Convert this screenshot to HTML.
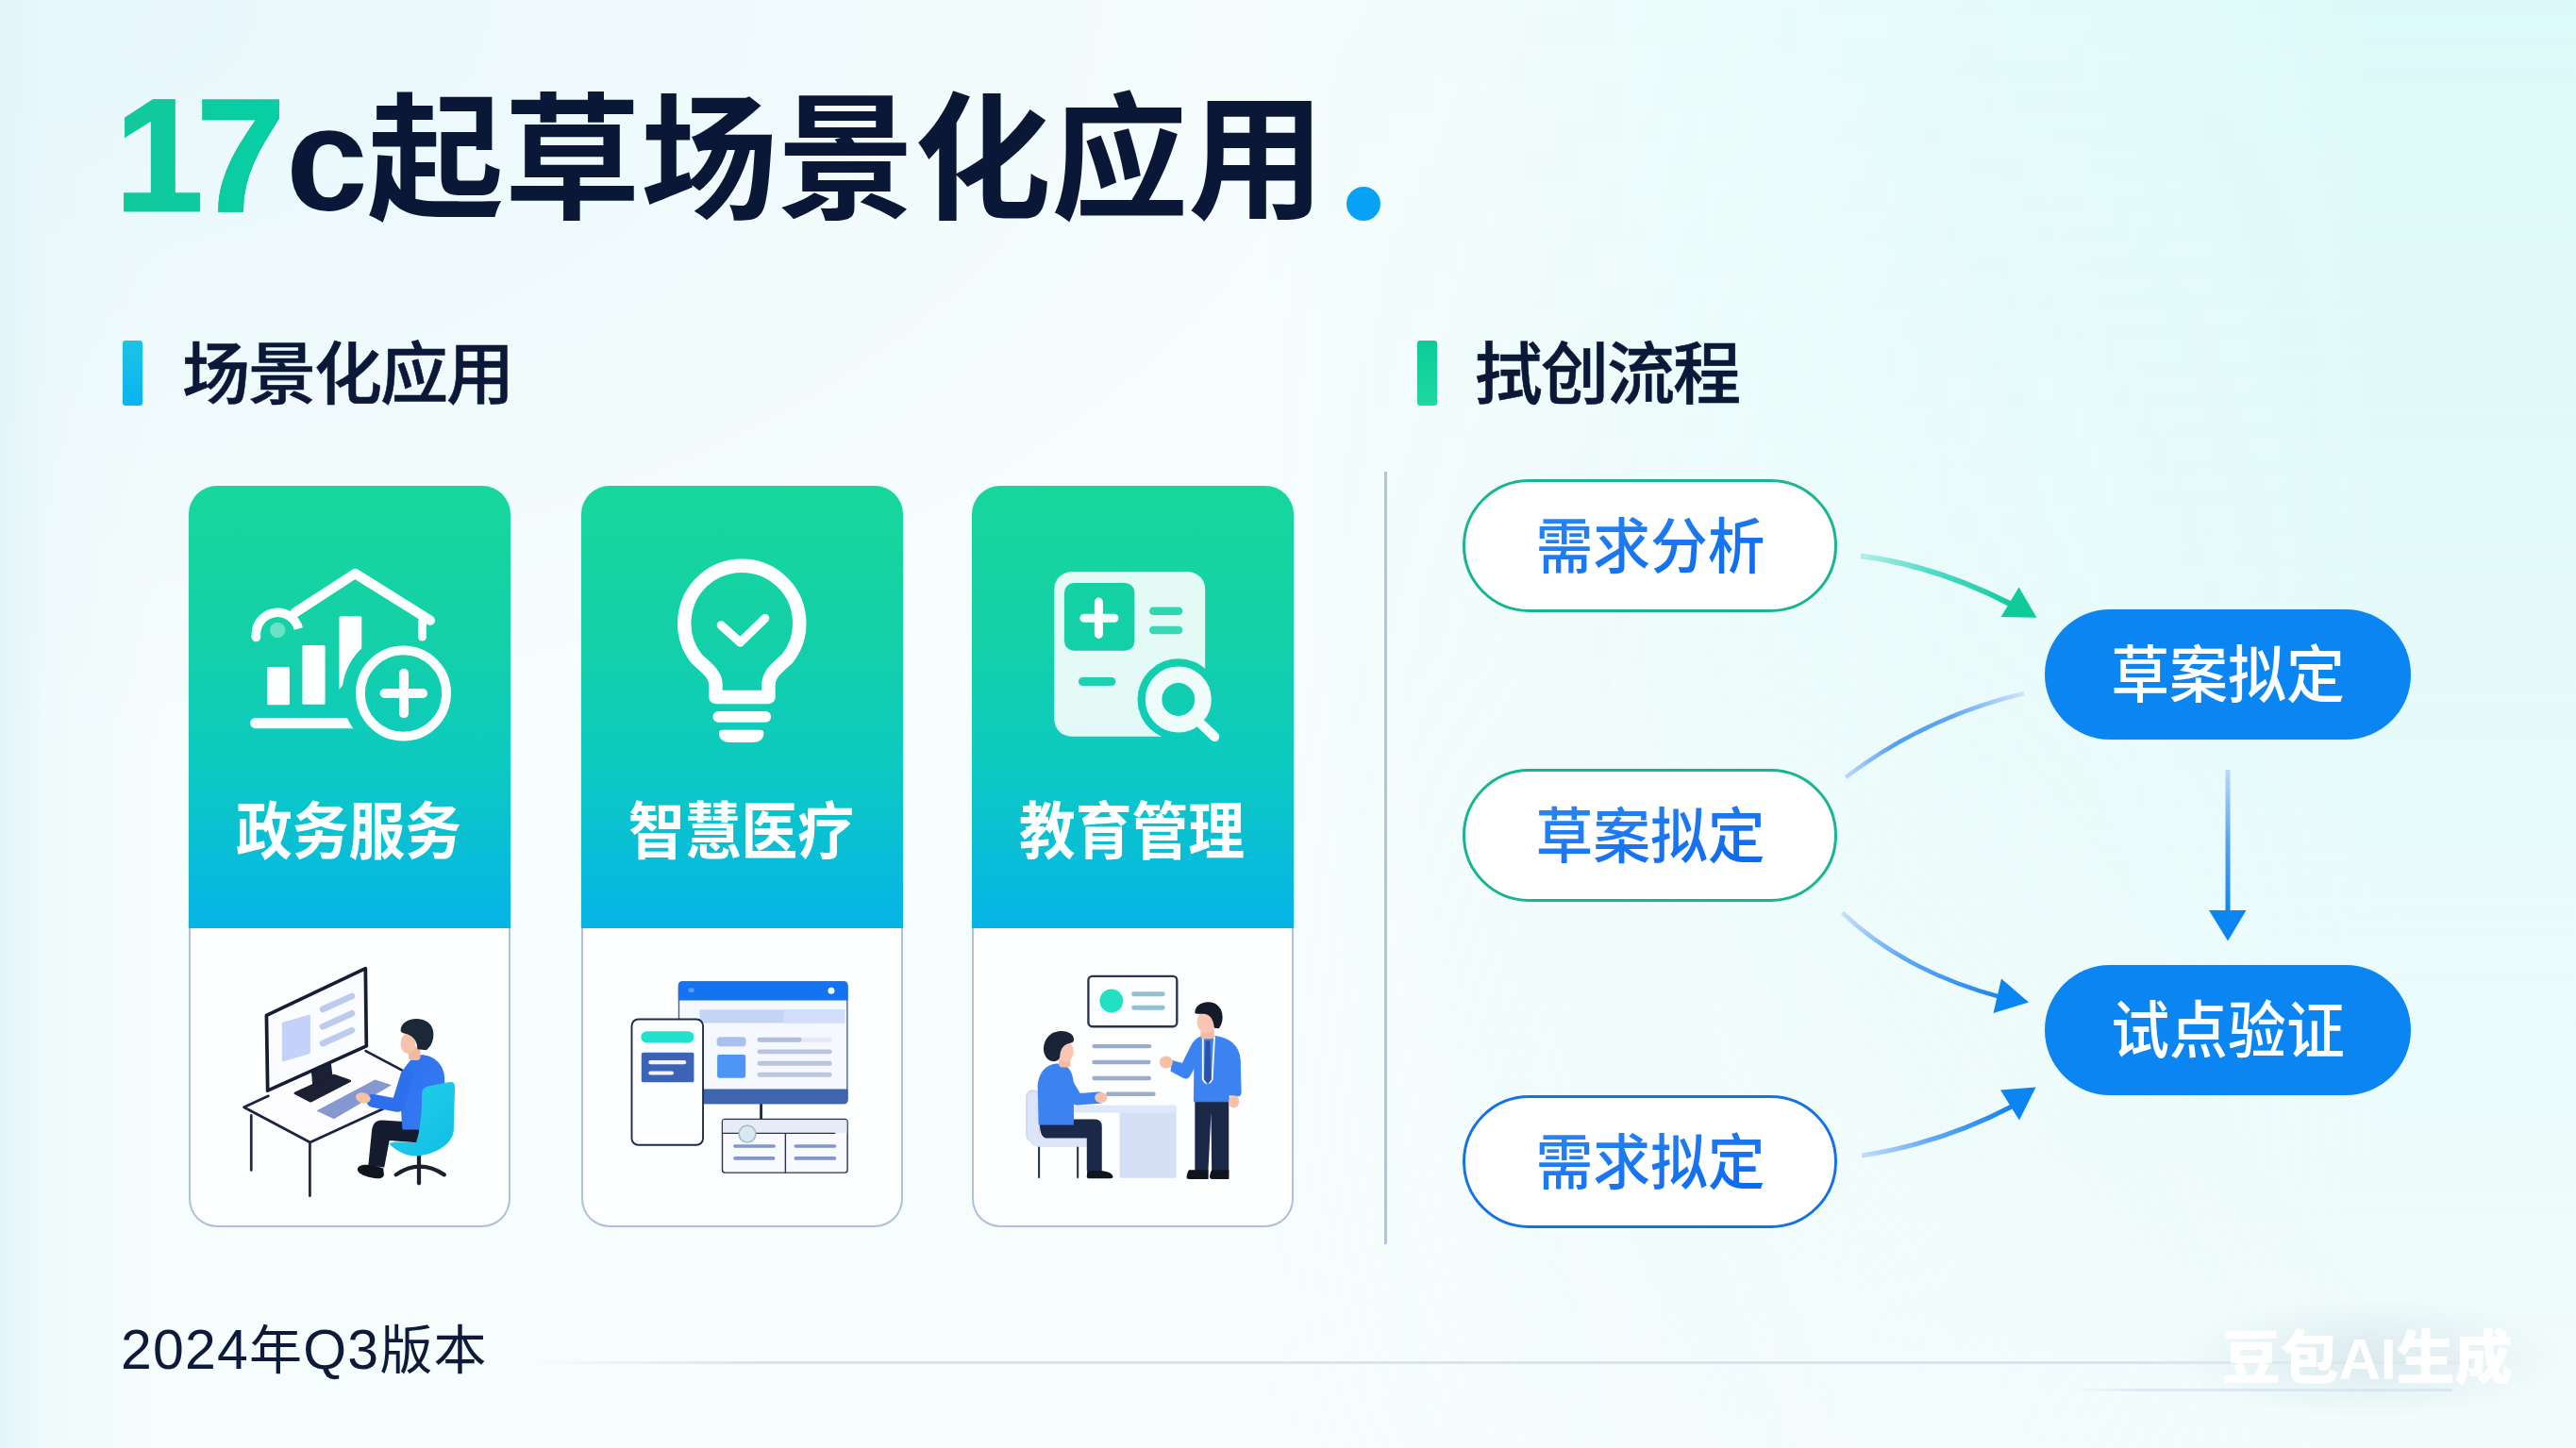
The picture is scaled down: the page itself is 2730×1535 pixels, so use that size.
<!DOCTYPE html>
<html lang="zh-CN">
<head>
<meta charset="utf-8">
<title>17c起草场景化应用</title>
<style>
*{margin:0;padding:0;box-sizing:border-box}
html,body{width:2730px;height:1535px;overflow:hidden;background:#f5fdfd}
body{font-family:"Liberation Sans","Noto Sans CJK SC",sans-serif;color:#0b1838}
#stage{position:relative;width:2730px;height:1535px;overflow:hidden;
 background:
  linear-gradient(90deg,rgba(226,244,248,.95) 0,rgba(232,247,250,.5) 50px,rgba(240,250,252,0) 170px),
  radial-gradient(ellipse 1500px 800px at 0 0,rgba(231,247,252,1),rgba(234,248,252,.55) 50%,rgba(240,250,253,0) 100%),
  #f6fdfd;
 }
#bgR{position:absolute;left:1330px;top:0;width:1400px;height:1535px;
 background:linear-gradient(180deg,rgba(220,250,249,1) 0,rgba(226,250,249,.92) 45%,rgba(234,250,250,.75) 80%,rgba(238,251,251,.6) 100%);
 -webkit-mask-image:linear-gradient(90deg,rgba(0,0,0,0) 0,rgba(0,0,0,.55) 45%,#000 85%);mask-image:linear-gradient(90deg,rgba(0,0,0,0) 0,rgba(0,0,0,.55) 45%,#000 85%)}
.abs{position:absolute;white-space:nowrap}
.t{position:absolute;white-space:nowrap;line-height:1}
/* title */
#t17{left:122px;top:81px;font-size:168px;font-weight:700;letter-spacing:-7px;padding-right:14px;-webkit-text-stroke:2.6px #10ca9e;
 background:linear-gradient(90deg,#12c89a,#06d0a8);-webkit-background-clip:text;background-clip:text;color:transparent}
#tc{left:303px;top:90px;font-size:156px;font-weight:700;color:#0a1736}
#tcjk{left:389px;top:86px;font-size:145px;font-weight:700;color:#0a1736;letter-spacing:0;font-family:"Noto Sans CJK SC",sans-serif}
#tdot{left:1427px;top:198px;width:36px;height:36px;border-radius:50%;background:#07a1f5}
/* section heads */
.bar{position:absolute;width:21px;height:69px;border-radius:3px;top:361px}
#bar1{left:130px;background:linear-gradient(180deg,#1cc3e6,#0ab3f0)}
#bar2{left:1502px;background:linear-gradient(180deg,#0ccb98,#1fd8a2)}
.sh{top:355px;font-size:72px;font-weight:500;-webkit-text-stroke:.6px #0b1838;color:#0b1838;letter-spacing:-2px;font-family:"Noto Sans CJK SC",sans-serif}
#sh1{left:193px}
#sh2{left:1563px}
/* cards */
.card{position:absolute;top:515px;width:341px;height:786px}
.card .bot{position:absolute;left:0;top:440px;width:341px;height:346px;border-radius:0 0 30px 30px;background:#fdfefe;border:2px solid #afc0dd;border-top:none}
.card .top{position:absolute;left:0;top:0;width:341px;height:469px;border-radius:30px 30px 0 0;
 background:linear-gradient(180deg,#17d79c 0%,#14d0a8 35%,#0ccbc0 62%,#08bbdc 88%,#05b3e6 100%)}
.card .lbl{position:absolute;left:0;width:341px;text-align:center;top:328px;font-size:66px;line-height:1;font-weight:700;color:#fff;letter-spacing:0;transform:translateX(-1px) scaleX(.905);font-family:"Noto Sans CJK SC",sans-serif}
#c1{left:200px}#c2{left:616px}#c3{left:1030px}
/* divider */
#vdiv{left:1467px;top:500px;width:3px;height:819px;background:#aec4e2}
/* pills */
.pill{position:absolute;width:397px;height:141px;border-radius:71px;background:#fff;border:3px solid #17b592;
 font-size:64px;font-weight:500;color:#1574f0;text-align:center;line-height:126px;font-family:"Noto Sans CJK SC",sans-serif}
.pill span,.bpill span{display:inline-block;transform:scaleX(.95)}
.pill span{background:linear-gradient(165deg,#2a88f4 15%,#0d68ee 85%);-webkit-background-clip:text;background-clip:text;color:transparent;padding:0 2px}
.bpill span{transform:scaleX(.938)}
#p1{left:1550px;top:508px}
#p2{left:1550px;top:815px}
#p3{left:1550px;top:1161px;border-color:#1572e2}
.bpill{position:absolute;width:388px;height:138px;border-radius:69px;background:#0b85f1;
 font-size:66px;font-weight:500;color:#fff;text-align:center;line-height:128px;font-family:"Noto Sans CJK SC",sans-serif}
#b1{left:2167px;top:646px}
#b2{left:2167px;top:1023px}
/* footer */
#foot{left:128px;top:1399px;font-size:59px;font-weight:400;color:#0d1a3a;letter-spacing:1.2px}
#foot .cj{font-family:"Noto Sans CJK SC",sans-serif;font-size:56px;font-weight:400}
#fline{left:560px;top:1443px;width:2060px;height:3px;background:linear-gradient(90deg,rgba(200,212,234,0),rgba(205,216,236,.7) 12%,rgba(205,216,236,.7) 80%,rgba(205,216,236,.3))}
#fline2{left:2193px;top:1472px;width:406px;height:3px;background:linear-gradient(90deg,rgba(200,212,232,0),rgba(200,212,232,.5) 20%,rgba(200,212,232,.5))}
#wmglow{left:2300px;top:1375px;width:420px;height:130px;border-radius:65px;background:radial-gradient(ellipse at center,rgba(214,228,234,.75),rgba(214,228,234,0) 70%)}
#wm{left:2355px;top:1410px;font-size:62px;font-weight:900;color:#fff;letter-spacing:-.4px;font-family:"Liberation Sans","Noto Sans CJK SC",sans-serif}
svg{position:absolute;left:0;top:0;overflow:visible}
</style>
</head>
<body>
<div id="stage">
  <div id="bgR"></div>
  <!-- title -->
  <div class="t" id="t17">17</div>
  <div class="t" id="tc">c</div>
  <div class="t" id="tcjk">起草场景化应用</div>
  <div class="abs" id="tdot"></div>

  <!-- section heads -->
  <div class="bar" id="bar1"></div>
  <div class="t sh" id="sh1">场景化应用</div>
  <div class="bar" id="bar2"></div>
  <div class="t sh" id="sh2">拭创流程</div>

  <!-- cards -->
  <div class="card" id="c1"><div class="bot"></div><div class="top"></div><div class="lbl">政务服务</div></div>
  <div class="card" id="c2"><div class="bot"></div><div class="top"></div><div class="lbl">智慧医疗</div></div>
  <div class="card" id="c3"><div class="bot"></div><div class="top"></div><div class="lbl">教育管理</div></div>

  <div class="abs" id="vdiv"></div>

  <!-- flow -->
  <div class="pill" id="p1"><span>需求分析</span></div>
  <div class="pill" id="p2"><span>草案拟定</span></div>
  <div class="pill" id="p3"><span>需求拟定</span></div>
  <div class="bpill" id="b1"><span>草案拟定</span></div>
  <div class="bpill" id="b2"><span>试点验证</span></div>

  <svg id="arrows" width="2730" height="1535" viewBox="0 0 2730 1535">
    <defs>
      <linearGradient id="ga1" gradientUnits="userSpaceOnUse" x1="1972" y1="589" x2="2132" y2="641"><stop offset="0" stop-color="#b4efea"/><stop offset=".45" stop-color="#4fdcc6"/><stop offset="1" stop-color="#12caa0"/></linearGradient>
      <linearGradient id="ga2" gradientUnits="userSpaceOnUse" x1="1956" y1="824" x2="2145" y2="735"><stop offset="0" stop-color="#b9d9fb"/><stop offset=".3" stop-color="#4f9ef3"/><stop offset=".6" stop-color="#5aa5f4"/><stop offset="1" stop-color="#cfe4fb"/></linearGradient>
      <linearGradient id="ga3" gradientUnits="userSpaceOnUse" x1="1952" y1="967" x2="2120" y2="1057"><stop offset="0" stop-color="#c9e1fb"/><stop offset=".4" stop-color="#62a9f5"/><stop offset="1" stop-color="#1a86f0"/></linearGradient>
      <linearGradient id="ga4" gradientUnits="userSpaceOnUse" x1="1973" y1="1225" x2="2132" y2="1173"><stop offset="0" stop-color="#c4defb"/><stop offset=".45" stop-color="#5fa8f5"/><stop offset="1" stop-color="#1282f0"/></linearGradient>
      <linearGradient id="ga5" gradientUnits="userSpaceOnUse" x1="2361" y1="816" x2="2361" y2="968"><stop offset="0" stop-color="#bcd9f9"/><stop offset=".5" stop-color="#55a3f4"/><stop offset="1" stop-color="#0b85f1"/></linearGradient>
    </defs>
    <g fill="none" stroke-linecap="butt">
      <path d="M1972 589.4 Q2053 600 2132 641" stroke="url(#ga1)" stroke-width="6"/>
      <path d="M1956 824 Q2041.5 759.5 2145 735" stroke="url(#ga2)" stroke-width="4.5"/>
      <path d="M1952.5 967.5 Q2017.8 1029.8 2122 1057.5" stroke="url(#ga3)" stroke-width="4.5"/>
      <path d="M1973 1225 Q2057.5 1212 2133 1172.5" stroke="url(#ga4)" stroke-width="5"/>
      <path d="M2361 816 L2361 968" stroke="url(#ga5)" stroke-width="5"/>
    </g>
    <polygon points="2139.6,622.5 2120.6,654 2158.5,654.8" fill="#10ca9c"/>
    <polygon points="2150,1062.5 2121,1037.5 2112.5,1074" fill="#0b85f1"/>
    <polygon points="2157.5,1152.5 2120,1155.5 2140,1187.5" fill="#0b85f1"/>
    <polygon points="2341,965 2380.5,965 2361,997.5" fill="#0b85f1"/>
  </svg>
  <svg id="icons" width="2730" height="1535" viewBox="0 0 2730 1535">
    <defs>
      <mask id="mk1" maskUnits="userSpaceOnUse" x="240" y="590" width="260" height="210">
        <rect x="240" y="590" width="260" height="210" fill="#fff"/>
        <circle cx="427.5" cy="735" r="65" fill="#000"/>
      </mask>
      <mask id="mk3" maskUnits="userSpaceOnUse" x="1100" y="595" width="200" height="200">
        <rect x="1100" y="595" width="200" height="200" fill="#fff"/>
        <rect x="1128" y="618.1" width="74.4" height="71.7" rx="10" fill="#000"/>
        <rect x="1218" y="643.5" width="35.3" height="8.6" rx="4.3" fill="#222"/>
        <rect x="1218" y="663.7" width="35.3" height="8.6" rx="4.3" fill="#2e2e2e"/>
        <rect x="1142.9" y="717.9" width="39.5" height="9.1" rx="4.5" fill="#111"/>
        <circle cx="1248.8" cy="741.5" r="43.3" fill="#000"/>
      </mask>
    </defs>
    <!-- icon 1 : government service -->
    <g fill="none" stroke="#fdfffe" stroke-linecap="round" stroke-linejoin="round">
      <path d="M312.8 649.4 L376.4 608 L455.8 657.7" stroke-width="10.4"/>
      <path d="M447.5 659 L447.5 675" stroke-width="9"/>
      <path d="M271.4 675.5 L271.4 671.5 A22.8 22.8 0 0 1 316.3 666.5" stroke-width="9.6" stroke-linecap="butt"/>
      <circle cx="271.4" cy="675.5" r="4.8" fill="#fdfffe" stroke="none"/>
      <circle cx="427.5" cy="735" r="45.6" stroke-width="9.8"/>
      <path d="M407.6 735 H448 M428 713.8 V756.3" stroke-width="10"/>
    </g>
    <circle cx="294.2" cy="668" r="8.3" fill="#fff" fill-opacity=".36"/>
    <g mask="url(#mk1)" fill="#fdfffe">
      <rect x="283.1" y="707.1" width="23.8" height="40.1" rx="1.5"/>
      <rect x="320.4" y="683.9" width="24.2" height="62.9" rx="1.5"/>
      <path d="M359.5 654.8 Q359.5 653.3 361 653.3 H381.8 Q383.3 653.3 383.3 654.8 V700 L359.5 731 Z"/>
      <path d="M270.8 766.6 H392" stroke="#fdfffe" stroke-width="11.3" stroke-linecap="round" fill="none"/>
    </g>
    <!-- icon 2 : lightbulb -->
    <g fill="none" stroke="#fdfffe" stroke-linecap="round" stroke-linejoin="round">
      <path d="M758.5 739 L758.5 726 C758.5 714 748 708 738 698 A61 61 0 1 1 834.5 698 C824 708 814.5 714 814.5 726 L814.5 739 Z" stroke-width="14.4"/>
      <path d="M764.3 662.8 L784.5 681 L810.7 655.5" stroke-width="9.2"/>
    </g>
    <rect x="755.5" y="754" width="61.7" height="11.7" rx="5.8" fill="#fdfffe"/>
    <path d="M766 773.7 H805.4 Q809.4 773.7 809.4 777 Q809.4 787 797 787 H774.4 Q762 787 762 777 Q762 773.7 766 773.7 Z" fill="#fdfffe"/>
    <!-- icon 3 : calculator + magnifier -->
    <rect x="1117.3" y="606.3" width="159.9" height="174.4" rx="18" fill="#ffffff" fill-opacity=".885" mask="url(#mk3)"/>
    <path d="M1148.9 655.3 H1180.9 M1164.4 638.1 V672.4" stroke="#fdfffe" stroke-width="9" stroke-linecap="round" fill="none"/>
    <circle cx="1248.8" cy="741.5" r="26.2" fill="none" stroke="#ffffff" stroke-opacity=".93" stroke-width="17.5"/>
    <path d="M1273.5 768 L1287.3 781" stroke="#f4fffd" stroke-width="10" stroke-linecap="round" fill="none"/>
  </svg>
  <svg id="illus" width="2730" height="1535" viewBox="0 0 2730 1535">
    <defs>
      <linearGradient id="gch" x1="0" y1="0" x2="1" y2="1"><stop offset="0" stop-color="#24d2e8"/><stop offset="1" stop-color="#10bde6"/></linearGradient>
      <linearGradient id="gbl" x1="0" y1="0" x2="1" y2="1"><stop offset="0" stop-color="#2a72ee"/><stop offset="1" stop-color="#3a7cf2"/></linearGradient>
    </defs>
    <!-- illustration 1 : person at desk -->
    <g transform="translate(180 960) scale(.24859)" stroke-linejoin="round" stroke-linecap="round">
      <path d="M316 860 L835 620 L1118 770 L598 1010 Z" fill="#fdfdff"/>
      <path d="M420 812 L316 860 L598 1010 L1118 770 L835 620" fill="none" stroke="#1a2340" stroke-width="11"/>
      <path d="M347 895 V1128 M597 1012 V1238" stroke="#1f2848" stroke-width="11" fill="none"/>
      <path d="M606 706 L684 670 L692 738 L612 774 Z" fill="#1b2132" stroke="#1b2132" stroke-width="6"/>
      <path d="M534 800 L700 724 L768 748 L600 834 Z" fill="#1b2132" stroke="#1b2132" stroke-width="10"/>
      <path d="M412 468 L834 268 L838 599 L417 789 Z" fill="#fbfcff" stroke="#161d33" stroke-width="15"/>
      <path d="M483 503 L594 470 L594 627 L483 660 Z" fill="#c3d2f8" stroke="#c3d2f8" stroke-width="10"/>
      <path d="M652 442 L776 386 M652 516 L776 460 M652 588 L776 532" stroke="#bfcbee" stroke-width="27" fill="none"/>
      <path d="M625 875 L875 742 L945 765 L700 910 Z" fill="#8598cf"/>
      <!-- legs -->
      <path d="M1065 925 L905 915 C872 915 864 938 861 960 L846 1108 L914 1116 L936 1002 L1065 1012 Z" fill="#151c30"/>
      <path d="M800 1122 C808 1100 852 1100 910 1120 L913 1150 C906 1166 880 1166 858 1160 C828 1152 798 1142 800 1122 Z" fill="#10141f"/>
      <!-- torso -->
      <path d="M1040 642 C1100 622 1160 660 1170 722 L1182 955 L992 955 C980 850 985 752 1000 692 Z" fill="url(#gbl)"/>
      <!-- head -->
      <rect x="1018" y="600" width="50" height="60" rx="14" fill="#f0b9a0"/>
      <ellipse cx="1016" cy="588" rx="32" ry="44" fill="#f5c3ab"/>
      <path d="M984 535 C982 488 1052 468 1098 496 C1138 524 1128 592 1094 616 L1056 612 C1054 580 1042 560 1012 548 C1000 544 990 545 984 535 Z" fill="#1b2838"/>
      <!-- chair -->
      <path d="M1062 1062 V1184" stroke="#1a2030" stroke-width="17" fill="none"/>
      <path d="M964 1148 Q1065 1078 1170 1148" stroke="#1a2030" stroke-width="17" fill="none"/>
      <path d="M1075 800 C1075 780 1090 772 1110 768 L1195 752 C1210 750 1216 760 1215 776 L1210 960 C1205 1010 1150 1052 1070 1066 C1010 1076 960 1042 935 1016 C960 1000 1000 1012 1050 1010 C1070 960 1075 860 1075 800 Z" fill="url(#gch)"/>
      <!-- arm -->
      <path d="M1012 722 L972 852 L866 832" stroke="#2d70ee" stroke-width="56" fill="none"/>
      <ellipse cx="824" cy="820" rx="32" ry="22" fill="#f6c3a2" transform="rotate(14 824 820)"/>
    </g>
    <!-- illustration 2 : devices -->
    <g transform="translate(600 980) scale(.23474)" stroke-linejoin="round" stroke-linecap="round">
      <path d="M880 800 V880" stroke="#1c2840" stroke-width="12" fill="none"/>
      <rect x="509" y="260" width="760" height="548" rx="16" fill="#f5f8ff" stroke="#3a62b0" stroke-width="6"/>
      <path d="M509 340 V276 Q509 260 525 260 H1253 Q1269 260 1269 276 V340 Z" fill="#1473f0" stroke="#1473f0" stroke-width="6"/>
      <path d="M509 746 H1269 V792 Q1269 808 1253 808 H525 Q509 808 509 792 Z" fill="#3d65b2" stroke="#3d65b2" stroke-width="6"/>
      <ellipse cx="565" cy="297" rx="13" ry="10" fill="#5a9ef8"/>
      <circle cx="1197" cy="299" r="15" fill="#f6fbff"/>
      <rect x="603" y="385" width="655" height="60" fill="#c5d3f5"/>
      <rect x="982" y="385" width="276" height="60" fill="#d3dff8"/>
      <rect x="680" y="508" width="132" height="43" rx="16" fill="#a9c1f1"/>
      <rect x="682" y="588" width="128" height="105" rx="9" fill="#4f96f4"/>
      <rect x="863" y="510" width="337" height="21" rx="10" fill="#e3e9f6"/>
      <rect x="863" y="510" width="200" height="21" rx="10" fill="#b3bfd9"/>
      <rect x="863" y="564" width="337" height="21" rx="10" fill="#b9c5dd"/>
      <rect x="863" y="617" width="337" height="21" rx="10" fill="#b9c5dd"/>
      <rect x="863" y="668" width="337" height="21" rx="10" fill="#bcc8e0"/>
      <!-- phone -->
      <rect x="296" y="428" width="322" height="568" rx="30" fill="#fdfeff" stroke="#1e2a44" stroke-width="8"/>
      <rect x="338" y="482" width="239" height="53" rx="26" fill="#23e1cf"/>
      <rect x="340" y="578" width="237" height="135" rx="8" fill="#3c63b5"/>
      <rect x="372" y="613" width="170" height="19" rx="9" fill="#f3f2fb"/>
      <rect x="372" y="662" width="114" height="18" rx="9" fill="#f3f2fb"/>
      <!-- bottom panel -->
      <rect x="705" y="880" width="565" height="241" rx="12" fill="#f8faff" stroke="#2a3450" stroke-width="6"/>
      <path d="M708 883 H1267 V942 H708 Z" fill="#e6edf8"/>
      <path d="M705 943 H1213 M990 946 V1120" stroke="#2a3450" stroke-width="6" fill="none"/>
      <circle cx="818" cy="946" r="38" fill="#dbe8f1" stroke="#a4bccb" stroke-width="7"/>
      <path d="M762 1001 H938 M762 1056 H936 M1036 1001 H1212 M1036 1056 H1212" stroke="#7f97cb" stroke-width="15" fill="none"/>
    </g>
    <!-- illustration 3 : consultation -->
    <g transform="translate(1010 980) scale(.23474)" stroke-linejoin="round" stroke-linecap="round">
      <rect x="611" y="234" width="400" height="227" rx="18" fill="#fdfeff" stroke="#2a3450" stroke-width="10"/>
      <circle cx="715" cy="345" r="53" fill="#22e0c2"/>
      <path d="M816 314 H947 M816 376 H947" stroke="#93c1d2" stroke-width="21" fill="none"/>
      <path d="M637 550 H887 M637 622 H883 M637 694 H885 M700 766 H905" stroke="#9caccb" stroke-width="19" fill="none"/>
      <!-- desk -->
      <rect x="752" y="817" width="256" height="328" rx="8" fill="#d5dff6"/>
      <path d="M545 817 H1000 Q1008 817 1008 825 V850 H545 Z" fill="#dfe7fa"/>
      <!-- chair -->
      <rect x="332" y="750" width="58" height="230" rx="26" fill="#dbe4f8" stroke="#b9c7e6" stroke-width="4"/>
      <path d="M345 945 H590 Q604 945 604 960 V1005 H390 Q345 1005 345 960 Z" fill="#dde6f9"/>
      <path d="M388 1008 V1142 M563 1008 V1142" stroke="#2a3450" stroke-width="9" fill="none"/>
      <!-- seated person -->
      <path d="M392 880 H640 Q672 880 672 912 V1112 H604 V965 H420 Q388 960 392 880 Z" fill="#1c2848"/>
      <path d="M606 1112 H670 Q720 1118 722 1140 Q722 1147 712 1147 H612 Q604 1147 604 1138 Z" fill="#10141f"/>
      <path d="M470 628 C420 630 385 670 382 730 L386 905 L545 905 L545 720 C540 660 520 630 470 628 Z" fill="#3c83f1"/>
      <path d="M500 690 L560 790 L660 782" stroke="#3c83f1" stroke-width="52" fill="none"/>
      <ellipse cx="668" cy="782" rx="28" ry="24" fill="#f7c0a8"/>
      <rect x="478" y="585" width="52" height="60" rx="14" fill="#f3b9a2"/>
      <ellipse cx="508" cy="575" rx="36" ry="48" fill="#f8c6b2"/>
      <path d="M545 525 C552 490 500 470 455 488 C405 510 395 580 430 610 C450 624 478 620 482 600 C484 570 492 548 520 538 C532 534 542 535 545 525 Z" fill="#1a2436"/>
      <!-- standing person -->
      <path d="M1092 790 H1245 V1115 H1168 L1165 850 L1152 1115 H1092 Z" fill="#1c2848"/>
      <path d="M1066 1112 H1150 V1147 H1066 Q1055 1147 1058 1136 Q1062 1118 1066 1112 Z M1170 1112 H1243 V1147 H1170 Q1160 1147 1162 1136 Q1165 1118 1170 1112 Z" fill="#10141f" stroke="#10141f" stroke-width="6"/>
      <path d="M1128 505 H1185 C1250 515 1290 545 1296 610 L1300 760 Q1300 775 1285 775 L1245 770 L1245 800 L1088 800 L1090 645 L1066 688 Q1056 700 1040 692 L984 662 L990 616 L1036 628 L1072 555 C1085 525 1105 508 1128 505 Z" fill="#3c83f1" stroke="#3c83f1" stroke-width="4"/>
      <ellipse cx="962" cy="622" rx="30" ry="28" fill="#f7c0a8"/>
      <ellipse cx="1268" cy="800" rx="24" ry="28" fill="#f7c0a8"/>
      <path d="M1128 508 L1128 700 Q1148 735 1170 700 L1180 508" fill="none" stroke="#f4f8ff" stroke-width="8"/>
      <path d="M1140 525 H1160 L1166 700 L1150 722 L1134 700 Z" fill="#2b52a4"/>
      <rect x="1118" y="455" width="60" height="62" rx="14" fill="#f3b9a2"/>
      <ellipse cx="1143" cy="440" rx="42" ry="52" fill="#f8c6b2"/>
      <path d="M1092 400 C1090 360 1140 340 1180 356 C1225 378 1225 440 1200 470 L1180 468 C1176 440 1170 420 1150 408 C1130 400 1108 408 1092 400 Z" fill="#141a28"/>
    </g>
  </svg>

  <!-- footer -->
  <div class="abs" id="fline"></div>
  <div class="abs" id="fline2"></div>
  <div class="abs" id="wmglow"></div>
  <div class="t" id="foot">2024<span class="cj">年</span>Q3<span class="cj">版本</span></div>
  <div class="t" id="wm">豆包AI生成</div>
</div>
</body>
</html>
